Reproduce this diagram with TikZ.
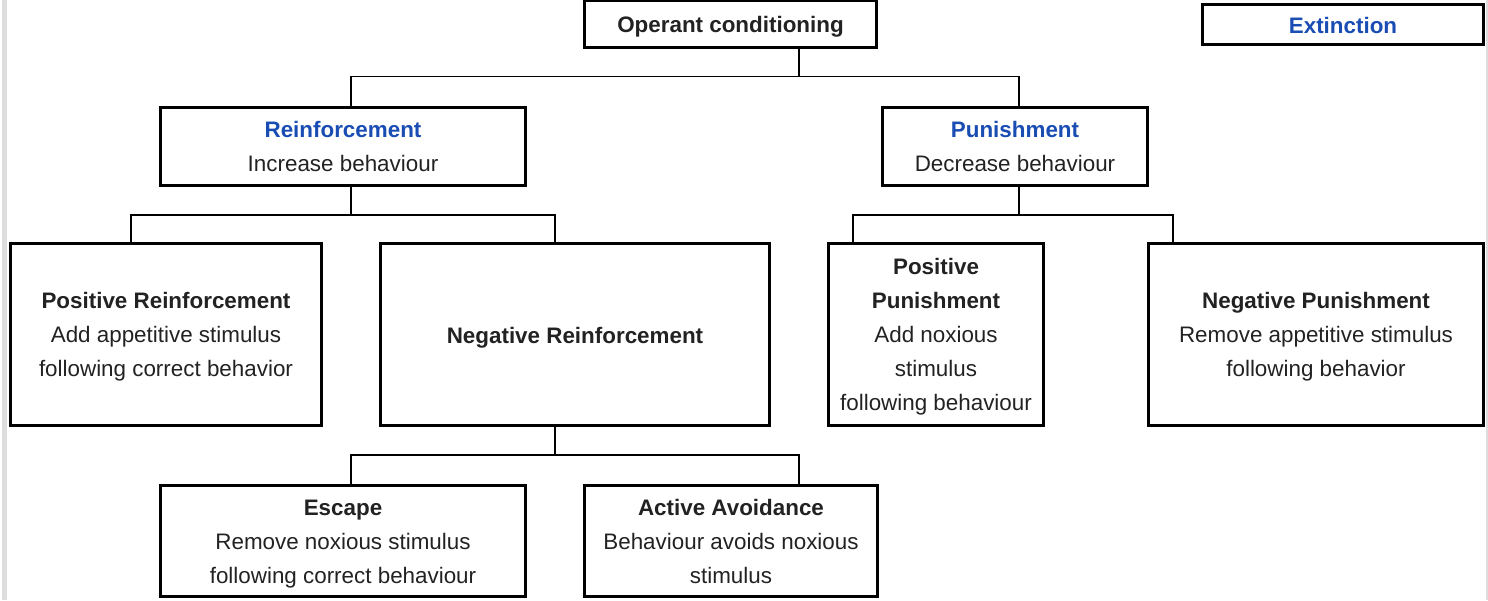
\documentclass[tikz,border=0pt]{standalone}
\usepackage{fontspec}
\setmainfont{Liberation Sans}
\definecolor{txt}{HTML}{222222}
\definecolor{lnk}{HTML}{1A4DB3}
\definecolor{barg}{HTML}{DDDDDD}
\newcommand{\fl}{\rule{0pt}{26.4pt}}
\newcommand{\sgl}{\rule{0pt}{27.8pt}}
\begin{document}
\begin{tikzpicture}[x=1pt,y=1pt,
  box/.style={draw=black,line width=3pt,rectangle,align=center,inner sep=0pt,
    text=txt,font=\fontsize{22.4}{34}\selectfont,
    execute at end node=\strut},
  conn/.style={draw=black,line width=1.4pt}]
\useasboundingbox (0,0) rectangle (1488,-600);
\fill[barg] (2,0) rectangle (7,-600);
\fill[barg] (1485.5,0) rectangle (1488,-600);

\node[box,minimum width=292,minimum height=47] (op) at (730.5,-23.5) {\sgl\textbf{Operant conditioning}};
\node[box,minimum width=281,minimum height=40] (ext) at (1343,-24.5) {\sgl\textbf{\color{lnk}Extinction}};

\node[box,minimum width=365,minimum height=78] (reinf) at (343,-146.5) {\fl\textbf{\color{lnk}Reinforcement}\\Increase behaviour};
\node[box,minimum width=265,minimum height=78] (pun) at (1015,-146.5) {\fl\textbf{\color{lnk}Punishment}\\Decrease behaviour};

\node[box,minimum width=311,minimum height=182] (posR) at (166,-334.5) {\fl\textbf{Positive Reinforcement}\\Add appetitive stimulus\\following correct behavior};
\node[box,minimum width=389,minimum height=182] (negR) at (575,-334.5) {\sgl\textbf{Negative Reinforcement}};
\node[box,minimum width=215,minimum height=182] (posP) at (936,-334.5) {\fl\textbf{Positive}\\\textbf{Punishment}\\Add noxious\\stimulus\\following behaviour};
\node[box,minimum width=335,minimum height=182] (negP) at (1316,-334.5) {\fl\textbf{Negative Punishment}\\Remove appetitive stimulus\\following behavior};

\node[box,minimum width=365,minimum height=111] (esc) at (343,-541) {\fl\textbf{Escape}\\Remove noxious stimulus\\following correct behaviour};
\node[box,minimum width=293,minimum height=111] (act) at (731,-541) {\fl\textbf{Active Avoidance}\\Behaviour avoids noxious\\stimulus};

\draw[conn] ([xshift=68.5pt]op.south) -- ++(0,-28) coordinate (j1);
\draw[conn] ([xshift=8pt]reinf.north) |- (j1) -| ([xshift=4pt]pun.north);

\draw[conn] ([xshift=8pt]reinf.south) -- ++(0,-28) coordinate (j2);
\draw[conn] ([xshift=-35pt]posR.north) |- (j2) -| ([xshift=-20pt]negR.north);

\draw[conn] ([xshift=4pt]pun.south) -- ++(0,-28) coordinate (j3);
\draw[conn] ([xshift=-83pt]posP.north) |- (j3) -| ([xshift=-143pt]negP.north);

\draw[conn] ([xshift=-20pt]negR.south) -- ++(0,-28) coordinate (j4);
\draw[conn] ([xshift=8pt]esc.north) |- (j4) -| ([xshift=68pt]act.north);
\end{tikzpicture}
\end{document}
